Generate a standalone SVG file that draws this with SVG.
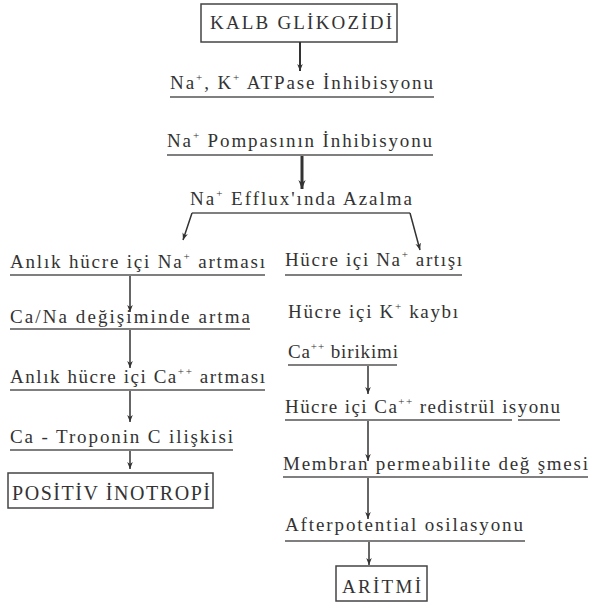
<svg xmlns="http://www.w3.org/2000/svg" width="590" height="605" viewBox="0 0 590 605">
<style>
.t{font-family:"Liberation Serif","Times New Roman",serif;font-size:19px;fill:#333}
.s{font-size:11px}
.u{stroke:#555;stroke-width:1.3;fill:none}
.b{stroke:#444;stroke-width:1.5;fill:none}
.c{stroke:#333;stroke-width:1.5;fill:none}
.ct{stroke:#333;stroke-width:3;fill:none}
</style>
<defs>
<marker id="ah" viewBox="0 0 10 8" refX="10" refY="4" markerWidth="7" markerHeight="6" markerUnits="userSpaceOnUse" orient="auto">
<path d="M0,0 L10,4 L0,8 L3,4 z" fill="#333"/>
</marker>
<marker id="ahb" viewBox="0 0 10 8" refX="10" refY="4" markerWidth="9" markerHeight="8" markerUnits="userSpaceOnUse" orient="auto">
<path d="M0,0 L10,4 L0,8 L3,4 z" fill="#333"/>
</marker>
</defs>
<rect width="590" height="605" fill="#fff"/>

<g id="n-kalb">
<rect class="b" x="201" y="4" width="196" height="38"/>
<text class="t" x="210" y="29" textLength="182" lengthAdjust="spacing">KALB GLİKOZİDİ</text>
</g>
<g id="n-atpase">
<text class="t" x="170" y="89" textLength="263" lengthAdjust="spacing">Na<tspan class="s" dy="-8">+</tspan><tspan dy="8">, K</tspan><tspan class="s" dy="-8">+</tspan><tspan dy="8"> ATPase İnhibisyonu</tspan></text>
<line class="u" x1="170" y1="97" x2="434" y2="97"/>
</g>
<g id="n-pompa">
<text class="t" x="167" y="147" textLength="265" lengthAdjust="spacing">Na<tspan class="s" dy="-8">+</tspan><tspan dy="8"> Pompasının İnhibisyonu</tspan></text>
<line class="u" x1="167" y1="155" x2="433" y2="155"/>
</g>
<g id="n-efflux">
<text class="t" x="190" y="205" textLength="222" lengthAdjust="spacing">Na<tspan class="s" dy="-8">+</tspan><tspan dy="8"> Efflux'ında Azalma</tspan></text>
<line class="u" x1="192" y1="213" x2="410" y2="213"/>
</g>

<g id="n-anlik-na">
<text class="t" x="10" y="268" textLength="255" lengthAdjust="spacing">Anlık hücre içi Na<tspan class="s" dy="-8">+</tspan><tspan dy="8"> artması</tspan></text>
<line class="u" x1="10" y1="275" x2="265" y2="275"/>
</g>
<g id="n-cana">
<text class="t" x="10" y="323" textLength="240" lengthAdjust="spacing">Ca/Na değişiminde artma</text>
<line class="u" x1="10" y1="329" x2="250" y2="329"/>
</g>
<g id="n-anlik-ca">
<text class="t" x="10" y="383" textLength="255" lengthAdjust="spacing">Anlık hücre içi Ca<tspan class="s" dy="-8">++</tspan><tspan dy="8"> artması</tspan></text>
<line class="u" x1="10" y1="390" x2="265" y2="390"/>
</g>
<g id="n-troponin">
<text class="t" x="10" y="443" textLength="223" lengthAdjust="spacing">Ca -  Troponin C ilişkisi</text>
<line class="u" x1="10" y1="450" x2="233" y2="450"/>
</g>
<g id="n-pozitif">
<rect class="b" x="8" y="473" width="205" height="35"/>
<text class="t" x="12" y="500" textLength="198" lengthAdjust="spacing" style="font-size:20px">POSİTİV İNOTROPİ</text>
</g>

<g id="n-hucre-na">
<text class="t" x="285" y="266" textLength="177" lengthAdjust="spacing">Hücre içi Na<tspan class="s" dy="-8">+</tspan><tspan dy="8"> artışı</tspan></text>
<line class="u" x1="285" y1="275" x2="462" y2="275"/>
</g>
<g id="n-hucre-k">
<text class="t" x="288" y="318" textLength="170" lengthAdjust="spacing">Hücre içi K<tspan class="s" dy="-8">+</tspan><tspan dy="8"> kaybı</tspan></text>
</g>
<g id="n-ca-birikimi">
<text class="t" x="288" y="358" textLength="110" lengthAdjust="spacing">Ca<tspan class="s" dy="-8">++</tspan><tspan dy="8"> birikimi</tspan></text>
<line class="u" x1="288" y1="365" x2="397" y2="365"/>
</g>
<g id="n-redistr">
<text class="t" x="285" y="413" textLength="275" lengthAdjust="spacing">Hücre içi Ca<tspan class="s" dy="-8">++</tspan><tspan dy="8"> redistrül isyonu</tspan></text>
<line class="u" x1="285" y1="420" x2="512" y2="420"/>
<line class="u" x1="518" y1="420" x2="560" y2="420"/>
</g>
<g id="n-membran">
<text class="t" x="283" y="470" textLength="305" lengthAdjust="spacing">Membran permeabilite değ şmesi</text>
<line class="u" x1="283" y1="477" x2="588" y2="477"/>
</g>
<g id="n-after">
<text class="t" x="285" y="531" textLength="238" lengthAdjust="spacing">Afterpotential osilasyonu</text>
<line class="u" x1="285" y1="541" x2="525" y2="541"/>
</g>
<g id="n-aritmi">
<rect class="b" x="336" y="566" width="91" height="35"/>
<text class="t" x="342" y="593" textLength="79" lengthAdjust="spacing">ARİTMİ</text>
</g>

<g id="connectors">
<line class="c" x1="300" y1="42" x2="300" y2="71" marker-end="url(#ah)" style="stroke-width:2"/>
<line class="ct" x1="302" y1="156" x2="302" y2="189" marker-end="url(#ahb)"/>
<path class="c" d="M192,213 L183,240" marker-end="url(#ah)"/>
<path class="c" d="M410,213 L420,250" marker-end="url(#ah)"/>
<line class="c" x1="130" y1="276" x2="130" y2="312" marker-end="url(#ah)"/>
<line class="c" x1="130" y1="330" x2="130" y2="368" marker-end="url(#ah)"/>
<line class="c" x1="130" y1="391" x2="130" y2="422" marker-end="url(#ah)"/>
<line class="c" x1="130" y1="451" x2="130" y2="469" marker-end="url(#ah)"/>
<line class="c" x1="368" y1="366" x2="368" y2="394" marker-end="url(#ah)"/>
<line class="c" x1="368" y1="421" x2="368" y2="461" marker-end="url(#ah)"/>
<line class="c" x1="368" y1="478" x2="368" y2="519" marker-end="url(#ah)"/>
<line class="c" x1="369" y1="542" x2="369" y2="565" marker-end="url(#ah)"/>
</g>
</svg>
